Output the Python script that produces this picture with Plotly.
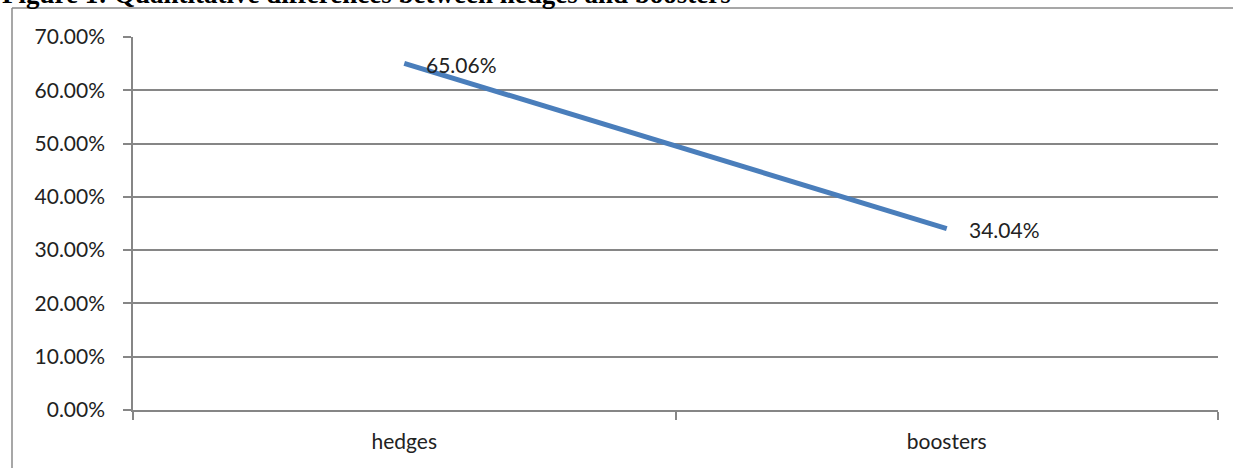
import plotly.graph_objects as go

categories = ["hedges", "boosters"]
values = [0.6506, 0.3404]
value_labels = ["65.06%", "34.04%"]
y_ticks = [0, 0.1, 0.2, 0.3, 0.4, 0.5, 0.6, 0.7]

L, R, T, B = 133, 15, 37, 58
W, H = 1233, 468
pw, ph = W - L - R, H - T - B

def px_x(p):
    return (p - L) / pw

def px_y(p):
    return (H - B - p) / ph

FONT = "Lato, Calibri, sans-serif"
FS = 21

fig = go.Figure()
fig.add_trace(go.Scatter(
    x=categories, y=values, mode="lines",
    line=dict(color="#4A7EBB", width=5),
    hoverinfo="skip", showlegend=False,
))

for c, v, t in zip(categories, values, value_labels):
    fig.add_annotation(x=c, y=v, text=t, showarrow=False, xanchor="left",
                       yanchor="middle", xshift=20, yshift=-1,
                       font=dict(family=FONT, size=FS, color="#222"))

fig.add_annotation(xref="paper", yref="paper", x=px_x(0), y=px_y(-6),
                   text="<b>Figure 1: Quantitative differences between hedges and boosters</b>",
                   showarrow=False, xanchor="left", yanchor="middle",
                   font=dict(family="Liberation Serif, Times New Roman, serif", size=27, color="#000"))

fig.add_shape(type="line", xref="paper", yref="paper",
              x0=px_x(12), x1=px_x(1240), y0=px_y(8), y1=px_y(8),
              line=dict(color="#8a8a8a", width=1.5), layer="below")
fig.add_shape(type="line", xref="paper", yref="paper",
              x0=px_x(12), x1=px_x(12), y0=px_y(8), y1=px_y(480),
              line=dict(color="#8a8a8a", width=1.5), layer="below")

fig.update_layout(
    width=W, height=H,
    margin=dict(l=L, r=R, t=T, b=B, pad=0),
    plot_bgcolor="white", paper_bgcolor="white",
    font=dict(family=FONT, size=FS, color="#222"),
)
fig.update_xaxes(
    type="category", tickson="boundaries", ticks="outside", ticklen=8,
    tickcolor="#868686", tickwidth=1.5, showline=True, linecolor="#868686",
    linewidth=1.5, showgrid=False, mirror=False, range=[-0.5, 1.5],
    tickfont=dict(size=FS), ticklabelstandoff=12,
)
fig.update_yaxes(
    range=[0, 0.7], tickvals=y_ticks, tickformat=".2%", ticks="outside",
    ticklen=8, tickcolor="#868686", tickwidth=1.5, showline=True,
    linecolor="#868686", linewidth=1.5, showgrid=True, gridcolor="#868686",
    gridwidth=1.5, zeroline=False, tickfont=dict(size=FS), ticklabelstandoff=14,
)

fig.write_html("out.html")
